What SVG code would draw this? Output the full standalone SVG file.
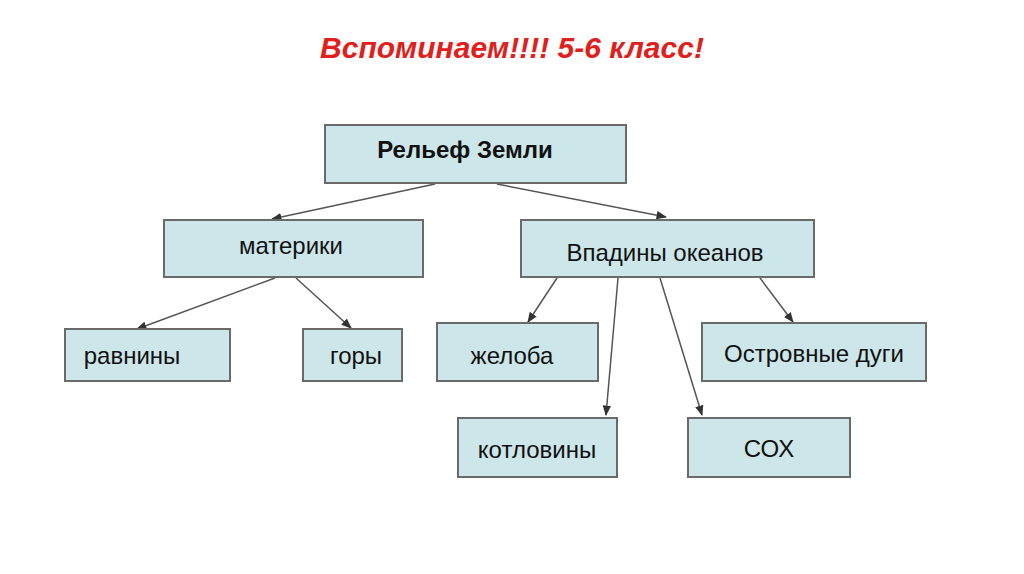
<svg xmlns="http://www.w3.org/2000/svg" width="1024" height="574" viewBox="0 0 1024 574">
<style>
.b{fill:#cde6e9;stroke:#6a6a6a;stroke-width:2}
.t{font-family:"Liberation Sans",Arial,sans-serif;font-size:24px;fill:#111;text-anchor:middle}
.c line{stroke:#555;stroke-width:1.5;marker-end:url(#a)}
</style>
<defs><marker id="a" viewBox="0 0 10 10" refX="9" refY="5" markerWidth="7" markerHeight="7" orient="auto"><path d="M0,1 L10,5 L0,9 z" fill="#333"/></marker></defs>
<rect width="1024" height="574" fill="#fff"/>
<text x="512" y="58" font-family="'Liberation Sans',Arial,sans-serif" font-size="30" font-weight="bold" font-style="italic" fill="#e0201c" text-anchor="middle">Вспоминаем!!!! 5-6 класс!</text>
<g class="c">
<line x1="435" y1="184" x2="272" y2="219"/>
<line x1="497" y1="184" x2="666" y2="217"/>
<line x1="275" y1="278" x2="137" y2="329"/>
<line x1="296" y1="278" x2="351" y2="328"/>
<line x1="557" y1="278" x2="528" y2="322"/>
<line x1="618" y1="278" x2="606" y2="415"/>
<line x1="660" y1="278" x2="702" y2="415"/>
<line x1="760" y1="278" x2="793" y2="322"/>
</g>
<g id="n1"><rect class="b" x="325" y="125" width="301" height="58"/><text class="t" x="465" y="158" font-weight="bold">Рельеф Земли</text></g>
<g id="n2"><rect class="b" x="164" y="220" width="259" height="57"/><text class="t" x="291" y="254">материки</text></g>
<g id="n3"><rect class="b" x="521" y="220" width="293" height="57"/><text class="t" x="665" y="261">Впадины океанов</text></g>
<g id="n4"><rect class="b" x="65" y="329" width="165" height="52"/><text class="t" x="132" y="364">равнины</text></g>
<g id="n5"><rect class="b" x="303" y="329" width="99" height="52"/><text class="t" x="356" y="364">горы</text></g>
<g id="n6"><rect class="b" x="437" y="323" width="161" height="58"/><text class="t" x="512" y="364">желоба</text></g>
<g id="n7"><rect class="b" x="702" y="323" width="224" height="58"/><text class="t" x="814" y="362">Островные дуги</text></g>
<g id="n8"><rect class="b" x="458" y="418" width="159" height="59"/><text class="t" x="537" y="458">котловины</text></g>
<g id="n9"><rect class="b" x="688" y="418" width="162" height="59"/><text class="t" x="769" y="457">СОХ</text></g>
</svg>
